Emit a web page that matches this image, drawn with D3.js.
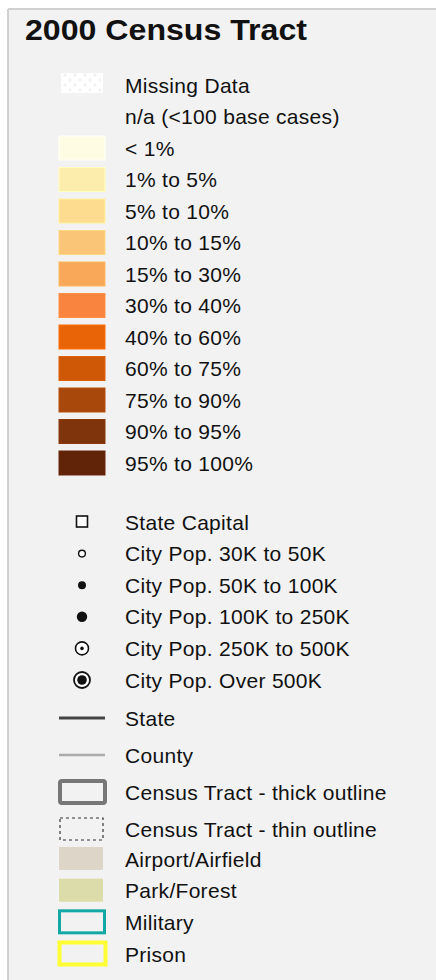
<!DOCTYPE html>
<html>
<head>
<meta charset="utf-8">
<script src="https://cdn.jsdelivr.net/npm/d3@7"></script>
<style>
  body { margin:0; background:#fff; }
  svg text { font-family:"Liberation Sans", Arial, sans-serif; fill:#111; }
</style>
</head>
<body>
<div id="legend"></div>
<script>
// legend classes
const classLabels = ["Missing Data","n/a (<100 base cases)","< 1%","1% to 5%","5% to 10%","10% to 15%","15% to 30%","30% to 40%","40% to 60%","60% to 75%","75% to 90%","90% to 95%","95% to 100%"];
const classColors = [null,null,"#fefde4","#fdedac","#fddc8f","#fbc577","#f9a85a","#f8843f","#e96407","#cf5806","#a8480a","#7f340b","#612408"];

const pointLabels = ["State Capital","City Pop. 30K to 50K","City Pop. 50K to 100K","City Pop. 100K to 250K","City Pop. 250K to 500K","City Pop. Over 500K"];
const pointKinds = ["square","open","dot","bigdot","ring","target"];

const lineLabels = ["State","County","Census Tract - thick outline","Census Tract - thin outline"];
const lineKinds = ["state","county","thick","thin"];

const areaLabels = ["Airport/Airfield","Park/Forest","Military","Prison"];
const areaKinds = ["airport","park","military","prison"];

const W = 436, H = 980;
const svg = d3.select("#legend").append("svg").attr("width",W).attr("height",H);

// panel
svg.append("rect").attr("x",8).attr("y",9).attr("width",W).attr("height",H).attr("fill","#f2f2f2");
svg.append("line").attr("x1",8).attr("x2",8).attr("y1",9).attr("y2",H).attr("stroke","#d0d0d0").attr("stroke-width",2);
svg.append("line").attr("x1",8).attr("x2",W).attr("y1",9).attr("y2",9).attr("stroke","#d0d0d0").attr("stroke-width",2);

// hatched pattern for missing data
const defs = svg.append("defs");
const pat = defs.append("pattern").attr("id","miss").attr("patternUnits","userSpaceOnUse")
  .attr("width",10).attr("height",10);
pat.append("path").attr("d","M0,0L10,10M10,0L0,10").attr("stroke","#fff").attr("stroke-width",4.2);

svg.append("text").attr("x",25).attr("y",40)
  .attr("font-size",30).attr("font-weight","bold").attr("textLength",282).attr("lengthAdjust","spacingAndGlyphs")
  .text("2000 Census Tract");

const swX = 59, swW = 46, swH = 24, textX = 125, symX = 82, fs = 21, ls = 0.3;

// y scales for each block
const y1 = d3.scaleLinear().domain([0,classLabels.length-1]).range([85,463]);
const y2 = d3.scaleLinear().domain([0,pointLabels.length-1]).range([522,680]);
const y3 = d3.scaleLinear().domain([0,lineLabels.length-1]).range([718,829]);
const y4 = d3.scaleLinear().domain([0,areaLabels.length-1]).range([859,954]);

// colour classes
const g1 = svg.append("g");
const r1 = g1.selectAll("g").data(classLabels).join("g")
  .attr("transform",(d,i)=>`translate(0,${y1(i)})`);
r1.filter((d,i)=>i===0).append("rect")
  .attr("x",swX+2).attr("y",-12).attr("width",swW-4).attr("height",20)
  .attr("fill","url(#miss)");
r1.filter((d,i)=>classColors[i]!==null).append("rect")
  .attr("x",swX).attr("y",-swH/2).attr("width",swW).attr("height",swH)
  .attr("fill",d=>classColors[classLabels.indexOf(d)])
  .attr("stroke",d=>d3.color(classColors[classLabels.indexOf(d)]).brighter(0.25)).attr("stroke-width",1);
r1.append("text").attr("x",textX).attr("dy","0.36em").attr("font-size",fs).attr("letter-spacing",ls).text(d=>d);

// point symbols
const g2 = svg.append("g");
const r2 = g2.selectAll("g").data(pointLabels).join("g")
  .attr("transform",(d,i)=>`translate(${symX},${y2(i)})`);
r2.each(function(d,i){
  const s = d3.select(this), k = pointKinds[i];
  if(k==="square") s.append("rect").attr("x",-5.5).attr("y",-6).attr("width",11).attr("height",11).attr("fill","#fff").attr("stroke","#111").attr("stroke-width",1.6);
  if(k==="open") s.append("circle").attr("r",3.4).attr("fill","#fff").attr("stroke","#111").attr("stroke-width",1.4);
  if(k==="dot") s.append("circle").attr("r",4).attr("fill","#111");
  if(k==="bigdot") s.append("circle").attr("r",5.2).attr("fill","#111");
  if(k==="ring"){ s.append("circle").attr("r",6.5).attr("fill","#fff").attr("stroke","#111").attr("stroke-width",1.6);
    s.append("circle").attr("r",1.8).attr("fill","#111"); }
  if(k==="target"){ s.append("circle").attr("r",8).attr("fill","#fff").attr("stroke","#111").attr("stroke-width",1.8);
    s.append("circle").attr("r",4.8).attr("fill","#111"); }
});
r2.append("text").attr("x",textX-symX).attr("dy","0.36em").attr("font-size",fs).attr("letter-spacing",ls).text(d=>d);

// boundary lines
const g3 = svg.append("g");
const r3 = g3.selectAll("g").data(lineLabels).join("g")
  .attr("transform",(d,i)=>`translate(0,${y3(i)})`);
r3.each(function(d,i){
  const s = d3.select(this), k = lineKinds[i];
  if(k==="state") s.append("line").attr("x1",swX).attr("x2",swX+swW).attr("stroke","#444").attr("stroke-width",3);
  if(k==="county") s.append("line").attr("x1",swX).attr("x2",swX+swW).attr("stroke","#aaa").attr("stroke-width",2.5);
  if(k==="thick") s.append("rect").attr("x",swX+1).attr("y",-11).attr("width",swW-1).attr("height",22).attr("rx",2)
    .attr("fill","none").attr("stroke","#777").attr("stroke-width",4);
  if(k==="thin") s.append("rect").attr("x",swX+1).attr("y",-11).attr("width",swW-3).attr("height",22)
    .attr("fill","none").attr("stroke","#333").attr("stroke-width",1.2).attr("stroke-dasharray","3,3");
});
r3.append("text").attr("x",textX).attr("dy","0.36em").attr("font-size",fs).attr("letter-spacing",ls).text(d=>d);

// special areas
const g4 = svg.append("g");
const r4 = g4.selectAll("g").data(areaLabels).join("g")
  .attr("transform",(d,i)=>`translate(0,${y4(i)})`);
r4.each(function(d,i){
  const s = d3.select(this), k = areaKinds[i];
  if(k==="airport") s.append("rect").attr("x",swX).attr("y",-12).attr("width",swW-2).attr("height",23).attr("fill","#ddd6c8");
  if(k==="park") s.append("rect").attr("x",swX).attr("y",-12).attr("width",swW-2).attr("height",23).attr("fill","#dcdcaa");
  if(k==="military") s.append("rect").attr("x",swX+0.5).attr("y",-11.5).attr("width",swW-1).attr("height",22)
    .attr("fill","none").attr("stroke","#12a9a5").attr("stroke-width",3);
  if(k==="prison") s.append("rect").attr("x",swX+0.5).attr("y",-11.5).attr("width",swW).attr("height",22)
    .attr("fill","none").attr("stroke","#ffff33").attr("stroke-width",4);
});
r4.append("text").attr("x",textX).attr("dy","0.36em").attr("font-size",fs).attr("letter-spacing",ls).text(d=>d);
</script>
</body>
</html>
